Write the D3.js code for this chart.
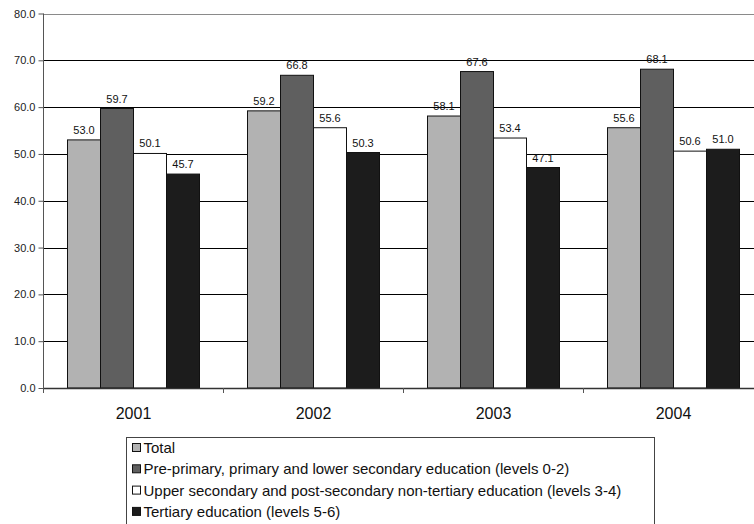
<!DOCTYPE html>
<html>
<head>
<meta charset="utf-8">
<script src="https://cdn.jsdelivr.net/npm/d3@7"></script>
<style>
  body { margin: 0; background: #fff; }
  svg { display: block; font-family: "Liberation Sans", Arial, sans-serif; }
</style>
</head>
<body>
<svg id="chart" width="754" height="524"></svg>
<script>
// Years on the category axis
const years = ["2001", "2002", "2003", "2004"];

// Series by education level
const seriesNames = [
  "Total",
  "Pre-primary, primary and lower secondary education (levels 0-2)",
  "Upper secondary and post-secondary non-tertiary education (levels 3-4)",
  "Tertiary education (levels 5-6)"
];
const totalValues    = [53.0, 59.2, 58.1, 55.6];
const lowerValues    = [59.7, 66.8, 67.6, 68.1];
const upperValues    = [50.1, 55.6, 53.4, 50.6];
const tertiaryValues = [45.7, 50.3, 47.1, 51.0];
const seriesValues = [totalValues, lowerValues, upperValues, tertiaryValues];
const seriesColors = ["#b2b2b2", "#5f5f5f", "#ffffff", "#1c1c1c"];

// Value-axis ticks
const yTicks = [0, 10, 20, 30, 40, 50, 60, 70, 80];

const FONT = "'Liberation Sans', Arial, sans-serif";
const svg = d3.select("#chart");
const plot = { left: 43.5, right: 763.5, top: 13.5, bottom: 388 };

const y = d3.scaleLinear().domain([0, 80]).range([plot.bottom, plot.top]);
const x0 = d3.scaleBand().domain(years).range([plot.left, plot.right]).padding(0);
const groupWidth = x0.bandwidth() * 132 / 180;
const x1 = d3.scaleBand().domain(d3.range(seriesNames.length)).range([0, groupWidth]).padding(0);
const groupOffset = (x0.bandwidth() - groupWidth) / 2;

// Horizontal gridlines
svg.append("g")
  .selectAll("line")
  .data(yTicks.filter(t => t > 0))
  .join("line")
  .attr("x1", plot.left).attr("x2", 754)
  .attr("y1", d => Math.round(y(d)) + 0.5).attr("y2", d => Math.round(y(d)) + 0.5)
  .attr("stroke", d => d === 80 ? "#8a8a8a" : "#000")
  .attr("stroke-width", 1);

// Bars
const groups = svg.append("g")
  .selectAll("g")
  .data(years)
  .join("g")
  .attr("transform", d => `translate(${x0(d) + groupOffset},0)`);

groups.selectAll("rect")
  .data((d, i) => seriesValues.map((vals, s) => ({ s, v: vals[i] })))
  .join("rect")
  .attr("x", d => x1(d.s))
  .attr("width", x1.bandwidth())
  .attr("y", d => y(d.v))
  .attr("height", d => plot.bottom - y(d.v))
  .attr("fill", d => seriesColors[d.s])
  .attr("stroke", "#111")
  .attr("stroke-width", 1);

// Value labels
groups.selectAll("text")
  .data((d, i) => seriesValues.map((vals, s) => ({ s, v: vals[i] })))
  .join("text")
  .attr("x", d => x1(d.s) + x1.bandwidth() / 2)
  .attr("y", d => y(d.v) - 6)
  .attr("text-anchor", "middle")
  .attr("font-size", 11)
  .attr("font-family", FONT)
  .attr("fill", "#111")
  .text(d => d.v.toFixed(1));

// Value axis
const yAxis = svg.append("g")
  .attr("transform", `translate(${plot.left},0)`)
  .call(d3.axisLeft(y).tickValues(yTicks).tickFormat(d3.format(".1f")).tickSize(5).tickPadding(3));
yAxis.select(".domain").attr("stroke", "#555").attr("d", `M0,${plot.top}V${plot.bottom + 5}`);
yAxis.selectAll(".tick line").attr("stroke", "#555");
yAxis.selectAll(".tick text").attr("font-size", 11).attr("fill", "#222")
  .attr("font-family", FONT);

// Category axis
const xAxis = svg.append("g")
  .attr("transform", `translate(0,${plot.bottom})`)
  .call(d3.axisBottom(x0).tickSize(0).tickPadding(20));
xAxis.select(".domain").attr("stroke", "#333").attr("stroke-width", 1.5);
xAxis.selectAll(".tick text").attr("font-size", 16).attr("fill", "#111")
  .attr("font-family", FONT);
svg.append("g")
  .selectAll("line")
  .data(years.slice(1))
  .join("line")
  .attr("x1", d => Math.round(x0(d)) - 0.5).attr("x2", d => Math.round(x0(d)) - 0.5)
  .attr("y1", plot.bottom).attr("y2", plot.bottom + 5)
  .attr("stroke", "#555");

// Legend
const legend = svg.append("g").attr("transform", "translate(126.5,437.5)");
legend.append("rect")
  .attr("width", 528).attr("height", 120)
  .attr("fill", "#fff").attr("stroke", "#444").attr("stroke-width", 1);
const rows = legend.selectAll("g.row")
  .data(seriesNames)
  .join("g")
  .attr("class", "row")
  .attr("transform", (d, i) => `translate(6,${10 + i * 21.3})`);
rows.append("rect")
  .attr("width", 8).attr("height", 8)
  .attr("y", -4)
  .attr("fill", (d, i) => seriesColors[i])
  .attr("stroke", "#111").attr("stroke-width", 1);
rows.append("text")
  .attr("x", 11).attr("y", 5.5)
  .attr("font-size", 15)
  .attr("font-family", FONT)
  .attr("fill", "#111")
  .text(d => d);
</script>
</body>
</html>
